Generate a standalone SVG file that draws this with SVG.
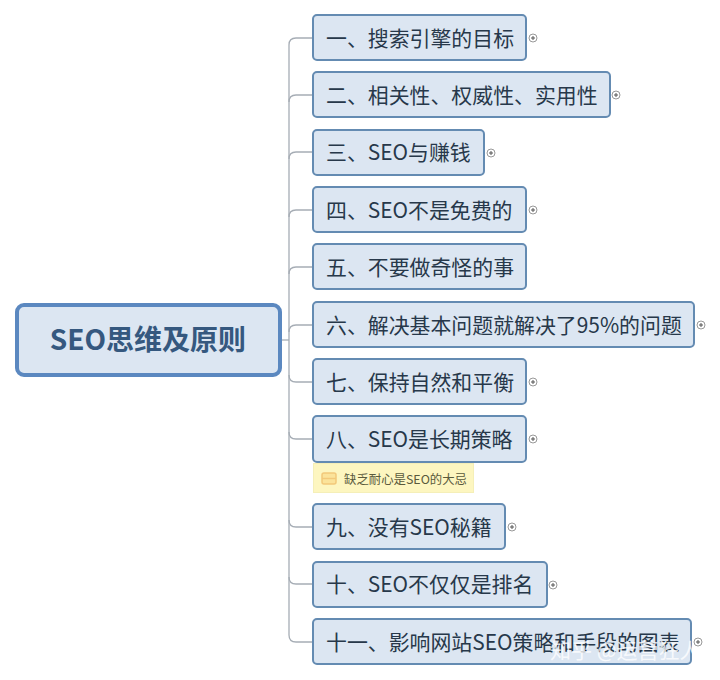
<svg xmlns="http://www.w3.org/2000/svg" width="720" height="680" viewBox="0 0 720 680">
<style>
text{font-family:"Noto Sans CJK SC","Noto Sans",sans-serif}
.n{fill:#dce6f2;stroke:#648bb2;stroke-width:2}
.t{font-size:20.9px;fill:#27384a}
.c{fill:none;stroke:#a6adb5;stroke-width:1.3}
.i{fill:#fff;stroke:#999;stroke-width:1}
.p{stroke:#555;stroke-width:1;fill:none}
</style>
<defs>
<g id="plus"><circle class="i" r="4"/><path class="p" d="M-2 0H2M0 -2V2"/></g>
</defs>
<rect width="720" height="680" fill="#fff"/>
<g id="connectors">
<path class="c" d="M281 340H289"/>
<path class="c" d="M313 38H296Q289 38 289 45V635Q289 642 296 642H313"/>
<path class="c" d="M313 95H296Q289 95 289 102"/>
<path class="c" d="M313 152H296Q289 152 289 159"/>
<path class="c" d="M313 210H296Q289 210 289 217"/>
<path class="c" d="M313 267H296Q289 267 289 274"/>
<path class="c" d="M313 325H296Q289 325 289 332"/>
<path class="c" d="M313 382H296Q289 382 289 375"/>
<path class="c" d="M313 439H296Q289 439 289 432"/>
<path class="c" d="M313 527H296Q289 527 289 520"/>
<path class="c" d="M313 584H296Q289 584 289 577"/>
</g>
<g id="root">
<rect x="17" y="305" width="263" height="70" rx="7" fill="#dce6f2" stroke="#5b88c0" stroke-width="4"/>
<text x="148" y="350" text-anchor="middle" font-size="28" font-weight="700" fill="#35587f">SEO思维及原则</text>
</g>
<g id="n1"><rect class="n" x="313" y="15" width="213" height="45" rx="4"/><text class="t" x="326" y="46">一、搜索引擎的目标</text><use href="#plus" x="533" y="38"/></g>
<g id="n2"><rect class="n" x="313" y="72" width="297" height="45" rx="4"/><text class="t" x="326" y="103">二、相关性、权威性、实用性</text><use href="#plus" x="616" y="95"/></g>
<g id="n3"><rect class="n" x="313" y="130" width="171" height="45" rx="4"/><text class="t" x="326" y="160">三、SEO与赚钱</text><use href="#plus" x="491" y="153"/></g>
<g id="n4"><rect class="n" x="313" y="187" width="213" height="45" rx="4"/><text class="t" x="326" y="218">四、SEO不是免费的</text><use href="#plus" x="533" y="210"/></g>
<g id="n5"><rect class="n" x="313" y="244" width="213" height="45" rx="4"/><text class="t" x="326" y="275">五、不要做奇怪的事</text></g>
<g id="n6"><rect class="n" x="313" y="302" width="381" height="45" rx="4"/><text class="t" x="326" y="333">六、解决基本问题就解决了95%的问题</text><use href="#plus" x="701" y="325"/></g>
<g id="n7"><rect class="n" x="313" y="359" width="213" height="45" rx="4"/><text class="t" x="326" y="390">七、保持自然和平衡</text><use href="#plus" x="533" y="382"/></g>
<g id="n8"><rect class="n" x="313" y="416" width="213" height="46" rx="4"/><text class="t" x="326" y="447">八、SEO是长期策略</text><use href="#plus" x="533" y="439"/></g>
<g id="note">
<rect x="313.500" y="463.500" width="160" height="29" fill="#fdf6c0" stroke="#f5efb8" stroke-width="1"/>
<rect x="322" y="473" width="14" height="11" rx="2" fill="#fbe39a" stroke="#f2c97a" stroke-width="1.5"/>
<path d="M322 478.500H336" stroke="#f2c97a" stroke-width="1.500"/>
<text x="344" y="484" font-size="12.400" fill="#5a5a3c">缺乏耐心是SEO的大忌</text>
</g>
<g id="n9"><rect class="n" x="313" y="504" width="192" height="45" rx="4"/><text class="t" x="326" y="535">九、没有SEO秘籍</text><use href="#plus" x="512" y="527"/></g>
<g id="n10"><rect class="n" x="313" y="562" width="234" height="45" rx="4"/><text class="t" x="326" y="592">十、SEO不仅仅是排名</text><use href="#plus" x="553" y="585"/></g>
<g id="n11"><rect class="n" x="313" y="619" width="378" height="45" rx="4"/><text class="t" x="326" y="650">十一、影响网站SEO策略和手段的图表</text><use href="#plus" x="698" y="642"/></g>
<text id="watermark" x="550" y="658" font-size="21" fill="#fff" fill-opacity="0.8">知乎 @运营狂人</text>
</svg>
